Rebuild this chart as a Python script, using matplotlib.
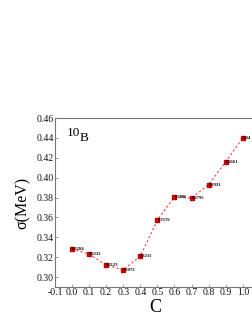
import numpy as np
import matplotlib.pyplot as plt

plt.rcParams['font.family'] = ['Liberation Serif', 'DejaVu Serif']

c_vals = [0.0, 0.1, 0.2, 0.3, 0.4, 0.5, 0.6, 0.7, 0.8, 0.9, 1.0]
sigma = [0.3284, 0.3232, 0.3123, 0.3072, 0.3211, 0.3576, 0.3806, 0.3795, 0.3931, 0.4161, 0.44]
point_labels = ['0.3284', '0.3232', '0.3123', '0.3072', '0.3211', '0.3576',
                '0.3806', '0.3795', '0.3931', '0.4161', '0.44']
x_ticks = [-0.1, 0.0, 0.1, 0.2, 0.3, 0.4, 0.5, 0.6, 0.7, 0.8, 0.9, 1.0]
y_ticks = [0.30, 0.32, 0.34, 0.36, 0.38, 0.40, 0.42, 0.44, 0.46]

fig = plt.figure(figsize=(2.53, 3.27), dpi=100)
ax = fig.add_axes([0.217, 0.122, 0.79, 0.517])

ax.plot(c_vals, sigma, color='#ff4040', linestyle=(0, (2, 2)), linewidth=0.8)
ax.plot(c_vals, sigma, linestyle='none', marker='s', markersize=3.5,
        color='#ee0000', markeredgecolor='#c00000')
for x, y, s in zip(c_vals, sigma, point_labels):
    ax.text(x, y, s, fontsize=3.3, fontweight='bold', va='center', ha='left')

ax.set_xlim(-0.1, 1.07)
ax.set_ylim(0.29, 0.46)
ax.set_xticks(x_ticks)
ax.set_yticks(y_ticks)
ax.set_xticklabels([f'{t:.1f}' for t in x_ticks])
ax.set_yticklabels([f'{t:.2f}' for t in y_ticks])
ax.tick_params(labelsize=7, direction='in', length=2, width=0.5, pad=1,
               color='#777777', labelcolor='#111111')
for sp in ax.spines.values():
    sp.set_color('#777777')
    sp.set_linewidth(0.8)

ax.set_xlabel('C', fontsize=13, labelpad=1)
ax.set_ylabel('σ(MeV)', fontsize=11.5, labelpad=4)
ax.text(0.06, 0.893, '10', transform=ax.transAxes, fontsize=9.5, va='baseline')
ax.text(0.125, 0.862, 'B', transform=ax.transAxes, fontsize=9.5, va='baseline')

fig.savefig('out.png', dpi=100)
